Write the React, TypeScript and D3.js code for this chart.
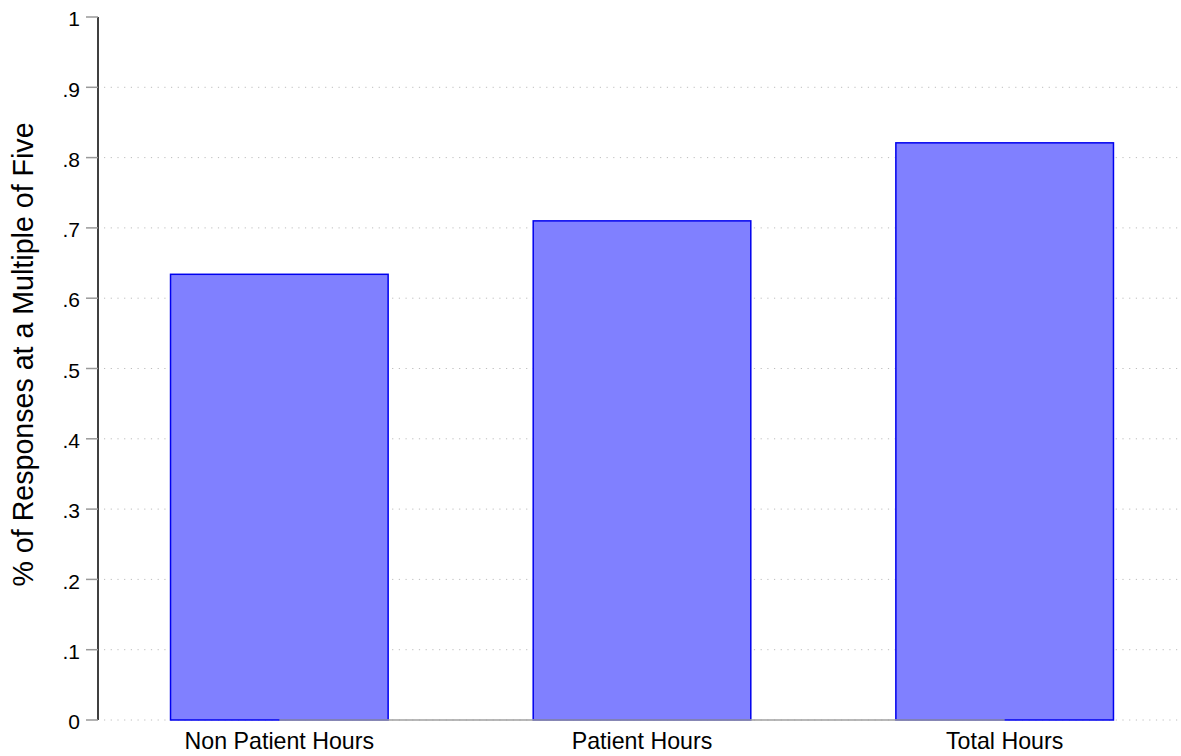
import React from "react";
import * as d3 from "d3";

const categories = ["Non Patient Hours", "Patient Hours", "Total Hours"];
const values = [0.634, 0.71, 0.821];
const yTicks = [0, 0.1, 0.2, 0.3, 0.4, 0.5, 0.6, 0.7, 0.8, 0.9, 1];
const yTickLabels = ["0", ".1", ".2", ".3", ".4", ".5", ".6", ".7", ".8", ".9", "1"];
const yTitle = "% of Responses at a Multiple of Five";

const W = 1181;
const H = 756;
const font = "'Liberation Sans', Arial, Helvetica, sans-serif";

export default function App() {
  const y = d3.scaleLinear().domain([0, 1]).range([720, 17]);
  const step = (1186 - 98) / 3;
  const xb = d3.scaleBand<string>().domain(categories).range([98, 98 + step * 3]).paddingInner(0.4).paddingOuter(0.2);
  const bw = xb.bandwidth();
  const center = (c: string) => (xb(c) as number) + bw / 2;
  const axisX = 98;

  return (
    <svg width={W} height={H} style={{ position: "absolute", left: 0, top: 0, background: "#fff" }}>
      {yTicks.slice(0, 10).map((t) => (
        <line key={"g" + t} x1={104} x2={W} y1={y(t)} y2={y(t)} stroke="#bdbdbd" strokeWidth={1} strokeDasharray="1.2,5.5" />
      ))}
      {categories.map((c, i) => (
        <rect key={c} x={xb(c)} y={y(values[i])} width={bw} height={y(0) - y(values[i])} fill="#8080ff" stroke="#0000ee" strokeWidth={1.5} />
      ))}
      <line x1={center(categories[0])} x2={center(categories[categories.length - 1])} y1={y(0)} y2={y(0)} stroke="#a0a0a0" strokeWidth={1.5} />
      <line x1={axisX} x2={axisX} y1={y(1)} y2={y(0)} stroke="#000" strokeWidth={1.5} />
      {yTicks.map((t, i) => (
        <g key={"t" + t}>
          <line x1={86} x2={axisX} y1={y(t)} y2={y(t)} stroke="#999" strokeWidth={1.5} />
          <text x={80} y={y(t)} dy="0.44em" textAnchor="end" fontFamily={font} fontSize={21} fill="#000">
            {yTickLabels[i]}
          </text>
        </g>
      ))}
      {categories.map((c) => (
        <text key={"l" + c} x={center(c)} y={749} textAnchor="middle" fontFamily={font} fontSize={23.2} fill="#000">
          {c}
        </text>
      ))}
      <text transform={`translate(33,354.5) rotate(-90)`} textAnchor="middle" fontFamily={font} fontSize={28.6} fill="#000">
        {yTitle}
      </text>
    </svg>
  );
}
